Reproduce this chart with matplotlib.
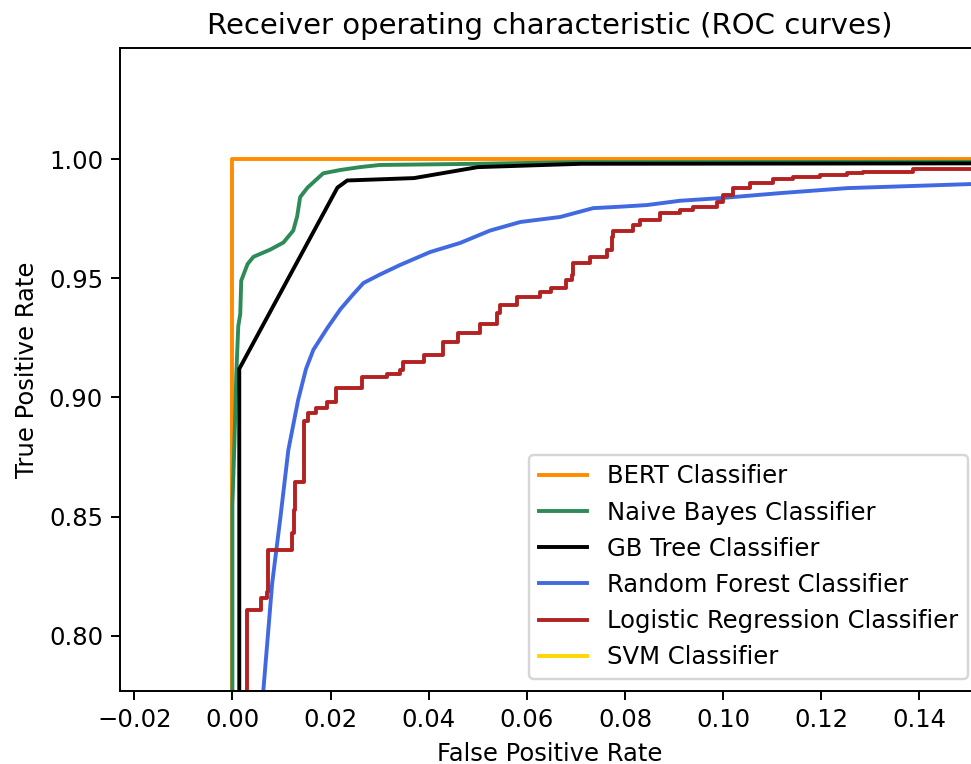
import matplotlib
matplotlib.use("Agg")
import matplotlib.pyplot as plt

# ROC points (zoomed view)
bert_fpr = [0.0, 0.0, 1.0]
bert_tpr = [0.0, 1.0, 1.0]

nb_fpr = [0.0, 0.0, 0.0004, 0.0008, 0.0012, 0.0016, 0.0018, 0.0031, 0.0043, 0.0077,
          0.0104, 0.0124, 0.0132, 0.0138, 0.0153, 0.0185, 0.022, 0.026, 0.030,
          0.050, 0.070, 1.0]
nb_tpr = [0.0, 0.855, 0.88, 0.91, 0.93, 0.935, 0.949, 0.956, 0.959, 0.962,
          0.965, 0.970, 0.976, 0.984, 0.988, 0.994, 0.9954, 0.9966, 0.9975,
          0.998, 0.9987, 1.0]

gb_fpr = [0.0, 0.0014, 0.0014, 0.0214, 0.0234, 0.037, 0.050, 0.071, 1.0]
gb_tpr = [0.0, 0.0, 0.912, 0.988, 0.991, 0.992, 0.9966, 0.998, 1.0]

rf_fpr = [0.0, 0.0045, 0.0063, 0.0081, 0.0098, 0.0114, 0.0134, 0.0150, 0.0165,
          0.0193, 0.022, 0.0245, 0.0267, 0.030, 0.0342, 0.0403, 0.0464, 0.0525,
          0.0587, 0.0668, 0.0735, 0.079, 0.0845, 0.0912, 0.0994, 0.1116, 0.1253,
          0.1387, 0.1505, 1.0]
rf_tpr = [0.0, 0.55, 0.777, 0.822, 0.850, 0.878, 0.899, 0.912, 0.920,
          0.929, 0.937, 0.943, 0.948, 0.9515, 0.9556, 0.961, 0.9648, 0.970,
          0.9736, 0.9757, 0.9794, 0.980, 0.9807, 0.9825, 0.9836, 0.9857, 0.9878,
          0.9887, 0.9895, 1.0]

lr_fpr = [0.0, 0.0022, 0.003, 0.0059, 0.0071, 0.0073, 0.0122, 0.0126, 0.0128,
          0.0145, 0.0155, 0.0170, 0.0193, 0.0212, 0.0265, 0.0316, 0.0342, 0.0348,
          0.039, 0.043, 0.046, 0.0505, 0.054, 0.0546, 0.058, 0.0627, 0.065, 0.068,
          0.0692, 0.0695, 0.0729, 0.0764, 0.0774, 0.0776, 0.0817, 0.0831, 0.0872,
          0.0912, 0.0939, 0.0988, 0.100, 0.102, 0.1055, 0.1102, 0.1143, 0.1198,
          0.1253, 0.1285, 0.1387, 1.0]
lr_tpr = [0.0, 0.60, 0.811, 0.816, 0.8185, 0.836, 0.843, 0.853, 0.8646,
          0.890, 0.8935, 0.8955, 0.898, 0.904, 0.9086, 0.910, 0.9115, 0.915,
          0.9178, 0.9233, 0.927, 0.931, 0.9354, 0.9388, 0.942, 0.9442, 0.946, 0.9493,
          0.9514, 0.9564, 0.9589, 0.962, 0.9673, 0.970, 0.9723, 0.9744, 0.9773,
          0.9788, 0.980, 0.982, 0.985, 0.9878, 0.990, 0.9916, 0.9925, 0.9933,
          0.994, 0.9946, 0.9958, 1.0]

svm_fpr = [0.0, 0.2, 0.5, 1.0]
svm_tpr = [0.0, 0.70, 0.90, 1.0]

dpi = 175
fig = plt.figure(figsize=(971 / dpi, 764 / dpi), dpi=dpi)
ax = fig.add_axes([0.1236, 0.0955, 0.8855, 0.8415])

lw = 1.6
ax.plot(bert_fpr, bert_tpr, color='darkorange', lw=lw, label='BERT Classifier')
ax.plot(nb_fpr, nb_tpr, color='seagreen', lw=lw, label='Naive Bayes Classifier')
ax.plot(gb_fpr, gb_tpr, color='black', lw=lw, label='GB Tree Classifier')
ax.plot(rf_fpr, rf_tpr, color='royalblue', lw=lw, label='Random Forest Classifier')
ax.plot(lr_fpr, lr_tpr, color='firebrick', lw=lw, drawstyle='steps-post',
        label='Logistic Regression Classifier')
ax.plot(svm_fpr, svm_tpr, color='gold', lw=lw, label='SVM Classifier')

ax.set_xlim(-0.0229, 0.1523)
ax.set_ylim(0.7769, 1.0465)
ax.set_xlabel('False Positive Rate')
ax.set_ylabel('True Positive Rate')
ax.set_title('Receiver operating characteristic (ROC curves)')
ax.legend(loc='lower right')

fig.savefig('out.png', dpi=dpi)
